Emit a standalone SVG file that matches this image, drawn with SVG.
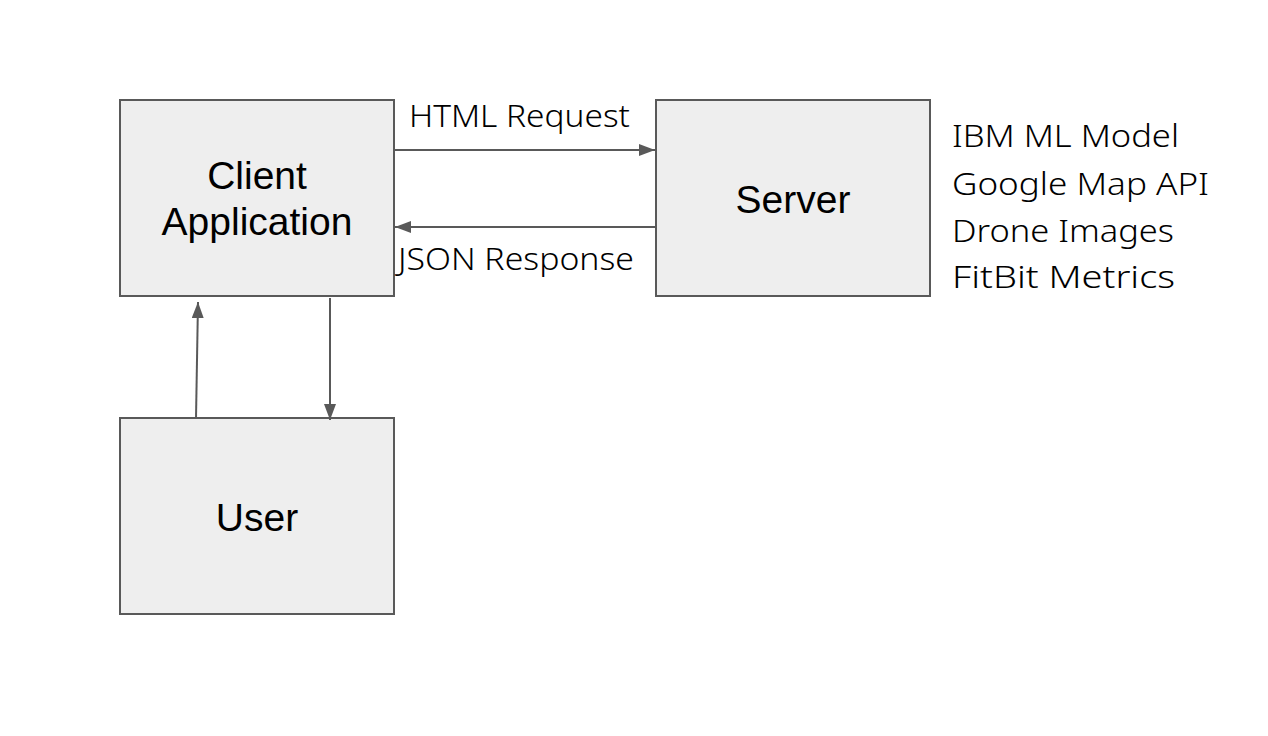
<svg xmlns="http://www.w3.org/2000/svg" width="1268" height="736" viewBox="0 0 1268 736">
<style>
.box{fill:#eeeeee;stroke:#595959;stroke-width:2}
.lbl{font-family:"Liberation Sans",Arial,sans-serif;font-size:39px;fill:#000;text-anchor:middle}
.mono{font-family:"Noto Sans","Open Sans",sans-serif;font-size:31px;font-weight:300;fill:#000}
.conn{stroke:#595959;stroke-width:2;fill:none}
</style>
<defs>
<marker id="a" viewBox="0 0 16 12" refX="16" refY="6" markerWidth="16" markerHeight="12" markerUnits="userSpaceOnUse" orient="auto">
<path d="M0,0 L16,6 L0,12 Z" fill="#595959"/>
</marker>
</defs>
<rect width="1268" height="736" fill="#ffffff"/>
<g id="client">
<rect class="box" x="120" y="100" width="274" height="196"/>
<text class="lbl" x="257" y="189">Client</text>
<text class="lbl" x="257" y="235">Application</text>
</g>
<g id="server">
<rect class="box" x="656" y="100" width="274" height="196"/>
<text class="lbl" x="793" y="213">Server</text>
</g>
<g id="user">
<rect class="box" x="120" y="418" width="274" height="196"/>
<text class="lbl" x="257" y="531">User</text>
</g>
<g id="connectors">
<line class="conn" x1="395" y1="150" x2="655" y2="150" marker-end="url(#a)"/>
<line class="conn" x1="655" y1="227" x2="395" y2="227" marker-end="url(#a)"/>
<line class="conn" x1="196" y1="418" x2="198" y2="302" marker-end="url(#a)"/>
<line class="conn" x1="330" y1="298" x2="330" y2="420" marker-end="url(#a)"/>
</g>
<g id="labels">
<text class="mono" x="409" y="127" textLength="221" lengthAdjust="spacingAndGlyphs">HTML Request</text>
<text class="mono" x="398" y="270" textLength="236" lengthAdjust="spacingAndGlyphs">JSON Response</text>
<text class="mono" x="952" y="147" textLength="227" lengthAdjust="spacingAndGlyphs">IBM ML Model</text>
<text class="mono" x="952" y="195" textLength="257" lengthAdjust="spacingAndGlyphs">Google Map API</text>
<text class="mono" x="952" y="242" textLength="222" lengthAdjust="spacingAndGlyphs">Drone Images</text>
<text class="mono" x="952" y="288" textLength="223" lengthAdjust="spacingAndGlyphs">FitBit Metrics</text>
</g>
</svg>
